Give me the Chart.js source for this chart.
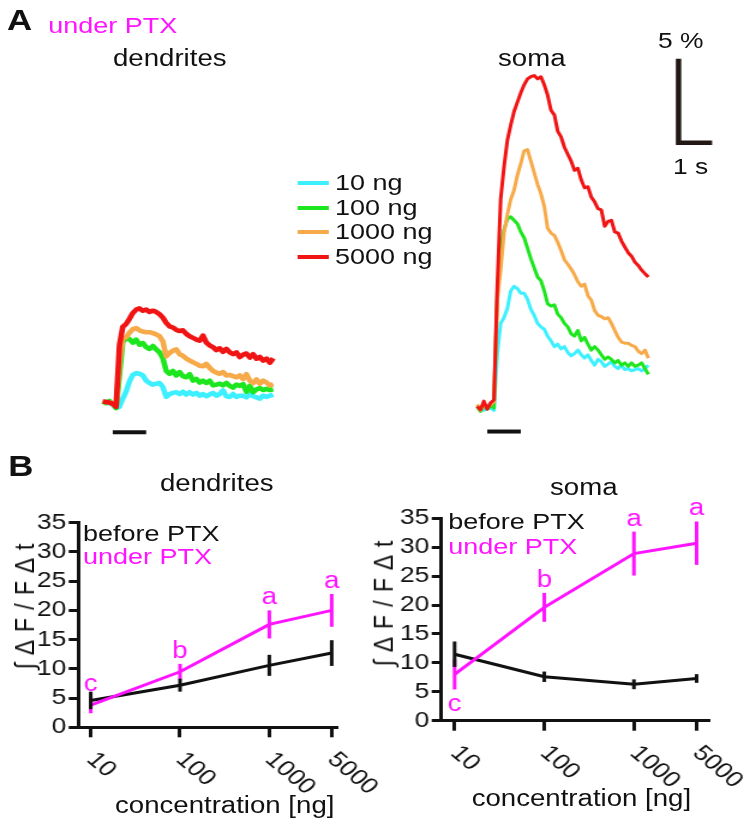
<!DOCTYPE html>
<html>
<head>
<meta charset="utf-8">
<script src="https://cdn.jsdelivr.net/npm/chart.js@4.4.1/dist/chart.umd.min.js"></script>
<style>
  html, body { margin: 0; padding: 0; background: #fff; }
  body { width: 747px; height: 827px; overflow: hidden; position: relative; }
  /* the original figure is drawn a bit wide, so the whole page is stretched horizontally */
  #fig { position: absolute; left: 0; top: 0; width: 622.5px; height: 827px; transform: scaleX(1.2); transform-origin: 0 0; }
  #fig canvas { position: absolute; }
  .t { position: absolute; white-space: nowrap; line-height: 1; color: #111; font-family: "Liberation Sans", Arial, sans-serif; }
</style>
</head>
<body>
<div id="fig"></div>
<script>
// --- panel A: calcium traces (dF/F in %, sampled every 0.1 s) ---
const time = [0, 0.1, 0.2, 0.3, 0.4, 0.5, 0.6, 0.7, 0.8, 0.9,
  1.0, 1.1, 1.2, 1.3, 1.4, 1.5, 1.6, 1.7, 1.8, 1.9,
  2.0, 2.1, 2.2, 2.3, 2.4, 2.5, 2.6, 2.7, 2.8, 2.9,
  3.0, 3.1, 3.2, 3.3, 3.4, 3.5, 3.6, 3.7, 3.8, 3.9,
  4.0, 4.1, 4.2, 4.3, 4.4, 4.5, 4.6, 4.7, 4.8, 4.9,
  5.0, 5.1];

const dendRed = [0.03, 0, -0.03, -0.1, -0.28, 3.38, 4.49, 4.66, 4.97, 5.31,
  5.52, 5.59, 5.45, 5.52, 5.38, 5.45, 5.38, 5.24, 5.04, 4.73,
  4.52, 4.45, 4.31, 4.24, 4.28, 4.07, 3.93, 3.83, 3.73, 3.66,
  3.97, 3.55, 3.38, 3.28, 3.1, 3.21, 3.0, 3.17, 2.97, 2.86,
  2.97, 2.69, 2.83, 2.9, 2.66, 2.86, 2.59, 2.69, 2.48, 2.59,
  2.35, 2.62];
const dendOrange = [0.03, 0, -0.03, -0.07, -0.24, 2.38, 3.8, 3.86, 4.14, 4.35,
  4.42, 4.28, 4.21, 4.17, 4.17, 4.11, 4.04, 3.93, 3.62, 2.73,
  2.93, 3.07, 3.14, 2.86, 2.76, 2.59, 2.48, 2.38, 2.28, 2.17,
  2.14, 2.28, 2.04, 1.86, 1.76, 1.69, 1.79, 1.59, 1.62, 1.55,
  1.48, 1.59, 1.38, 1.66, 1.28, 1.14, 1.35, 1.1, 1.28, 1.17,
  1.0, 1.07];
const dendGreen = [0.03, -0.07, 0.07, -0.14, -0.35, 1.59, 3.59, 3.8, 3.76, 3.55,
  3.73, 3.42, 3.52, 3.28, 3.17, 3.35, 3.14, 2.97, 2.62, 1.86,
  1.69, 1.86, 1.59, 1.79, 1.55, 1.48, 1.66, 1.28, 1.38, 1.17,
  1.28, 1.14, 1.28, 1.0, 1.04, 1.1, 1.0, 1.14, 0.97, 0.86,
  1.04, 0.97, 1.07, 0.62, 0.97, 0.59, 0.76, 0.83, 0.72, 0.79,
  0.72, 0.76];
const dendCyan = [0.03, 0, -0.07, -0.1, -0.35, -0.28, 0.21, 0.62, 1.24, 1.62,
  1.73, 1.69, 1.59, 1.28, 1.14, 1.04, 1.1, 1.14, 0.9, 0.31,
  0.48, 0.55, 0.59, 0.48, 0.62, 0.45, 0.59, 0.45, 0.55, 0.38,
  0.48, 0.35, 0.45, 0.55, 0.38, 0.48, 0.69, 0.35, 0.31, 0.48,
  0.31, 0.38, 0.38, 0.28, 0.48, 0.35, 0.28, 0.21, 0.38, 0.31,
  0.38, 0.45];

const somaRed = [0.1, -0.1, 0.41, -0.07, 0.31, 0.48, 7.25, 12.42, 14.35, 15.94,
  16.84, 17.66, 18.22, 18.77, 19.25, 19.6, 19.73, 19.8, 19.6, 19.73,
  19.25, 18.63, 17.73, 17.46, 16.49, 16.15, 15.53, 15.11, 14.7, 14.15,
  14.28, 13.59, 13.11, 13.18, 12.56, 12.28, 11.87, 11.8, 10.83, 11.11,
  11.18, 10.49, 10.42, 9.94, 9.59, 9.25, 9.04, 8.69, 8.49, 8.21,
  8.0, 7.8];
const somaOrange = [0.21, -0.14, 0.28, 0, 0.21, 0.35, 6.42, 8.21, 10.42, 11.52,
  12.42, 12.97, 13.87, 14.56, 15.32, 15.39, 14.7, 14.01, 13.32, 12.77,
  12.01, 10.7, 10.42, 10.28, 9.87, 9.38, 8.83, 8.56, 8.28, 7.94,
  7.52, 7.25, 7.38, 6.69, 6.42, 5.8, 5.52, 5.45, 5.31, 5.38,
  5.04, 4.62, 4.21, 3.93, 3.86, 3.86, 3.73, 3.66, 3.38, 3.24,
  3.45, 2.97];
const somaGreen = [0.07, -0.21, 0.21, -0.07, 0.14, 0, 6.83, 9.59, 10.63, 11.25,
  11.39, 11.18, 10.97, 10.49, 10.14, 9.52, 8.9, 8.35, 7.8, 7.59,
  6.97, 6.21, 6.07, 6.14, 5.59, 5.38, 5.04, 4.83, 4.42, 4.28,
  4.62, 4.0, 4.21, 3.8, 3.45, 3.66, 3.45, 3.17, 2.9, 3.04,
  2.9, 2.69, 2.83, 2.55, 2.69, 2.48, 2.69, 2.48, 2.55, 2.69,
  2.35, 2.0];
const somaCyan = [0, 0.07, -0.14, 0.14, 0, -0.14, 3.24, 5.04, 5.38, 5.93,
  6.97, 7.25, 7.11, 6.83, 6.83, 6.49, 5.87, 5.52, 5.04, 4.83,
  4.69, 4.28, 4.0, 3.66, 3.8, 3.52, 3.66, 3.31, 3.11, 3.24,
  3.45, 3.17, 2.97, 3.17, 2.83, 2.55, 2.9, 2.76, 2.48, 2.62,
  2.76, 2.48, 2.35, 2.55, 2.28, 2.35, 2.21, 2.28, 2.35, 2.21,
  2.35, 2.55];

const legendLabels = ['10 ng', '100 ng', '1000 ng', '5000 ng'];
const traceColors = ['#3ef0ff', '#1ee61e', '#f7aa4a', '#f01414'];
const stimulus = [0.3, 1.3];          // s
const scaleBar = { t: 6.0, v: 15.8, dt: 1, dv: 5 };  // 1 s, 5 %

// --- panel B: integrated response vs concentration ---
const concentrations = [10, 100, 1000, 5000];
const tickLabels = ['10', '100', '1000', '5000'];
const dendBefore = [4.6, 7.2, 10.6, 12.7];
const dendBeforeErr = [1.5, 1.1, 1.8, 2.2];
const dendUnder = [3.8, 9.5, 17.6, 20.0];
const dendUnderErr = [1.4, 1.35, 2.4, 2.8];
const somaBefore = [11.5, 7.6, 6.3, 7.3];
const somaBeforeErr = [2.2, 0.9, 0.85, 0.75];
const somaUnder = [8.0, 19.6, 28.9, 30.7];
const somaUnderErr = [2.6, 2.5, 3.8, 3.75];
const dendLetters = ['c', 'b', 'a', 'a'];
const somaLetters = ['c', 'b', 'a', 'a'];
const dendLetterSide = ['up', 'up', 'up', 'up'];
const somaLetterSide = ['down', 'up', 'up', 'up'];

const S = 1.2;
const FONT = '"Liberation Sans", Arial, sans-serif';
const BLACK = '#111111';
const MAGENTA = '#ff14ff';
const fig = document.getElementById('fig');

// canvas placed by its box in page pixels (x is divided by the stretch)
function makeCanvas(x0, y0, w, h) {
  const cv = document.createElement('canvas');
  cv.width = Math.round(w); cv.height = Math.round(h);
  cv.style.left = x0 + 'px'; cv.style.top = y0 + 'px';
  cv.style.width = cv.width + 'px'; cv.style.height = cv.height + 'px';
  fig.appendChild(cv);
  return cv;
}

function text(str, x, baseline, size, opts = {}) {
  const d = document.createElement('div');
  d.className = 't';
  d.textContent = str;
  d.style.fontSize = size + 'px';
  d.style.left = (x / S) + 'px';
  d.style.top = (baseline - 0.8465 * size) + 'px';
  if (opts.color) d.style.color = opts.color;
  if (opts.bold) d.style.fontWeight = 'bold';
  fig.appendChild(d);
  return d;
}

function vtext(str, cx, cy, size) {
  const d = document.createElement('div');
  d.className = 't';
  d.textContent = str;
  d.style.fontSize = size + 'px';
  d.style.letterSpacing = '1px';
  d.style.left = (cx / S) + 'px';
  d.style.top = cy + 'px';
  d.style.transform = 'translate(-50%, -50%) rotate(-90deg)';
  fig.appendChild(d);
}

function pts(xs, ys) { return xs.map((x, i) => ({ x: x, y: ys[i] })); }

// trace chart: area = plot rectangle in page pixels
function traceChart(area, xr, yr, datasets, width) {
  const pad = 8;
  const w = (area.x1 - area.x0) / S + 2 * pad;
  const h = area.y1 - area.y0 + 2 * pad;
  const cv = makeCanvas(area.x0 / S - pad, area.y0 - pad, w, h);
  new Chart(cv, {
    type: 'line',
    data: { datasets: datasets },
    options: {
      responsive: false,
      animation: false,
      layout: { padding: pad },
      plugins: { legend: { display: false }, tooltip: { enabled: false } },
      elements: { point: { radius: 0 }, line: { tension: 0, borderWidth: width, borderJoinStyle: 'round' } },
      scales: {
        x: { type: 'linear', min: xr[0], max: xr[1], display: false },
        y: { type: 'linear', min: yr[0], max: yr[1], display: false }
      }
    }
  });
}

function traceSets(series, stimLevel, stimWidth) {
  const sets = series.map((vals, i) => ({ data: pts(time, vals), borderColor: traceColors[i] })).reverse();
  sets.push({ data: [{ x: stimulus[0], y: stimLevel }, { x: stimulus[1], y: stimLevel }], borderColor: BLACK, borderWidth: stimWidth, borderCapStyle: 'butt' });
  return sets;
}

const dendSets = traceSets([dendCyan, dendGreen, dendOrange, dendRed], -1.8, 4);
traceChart({ x0: 96.3, x1: 283.9, y0: 267.6, y1: 444 }, [-0.2, 5.4], [-2.5, 8], dendSets, 4.6);

const somaSets = traceSets([somaCyan, somaGreen, somaOrange, somaRed], -1.4, 4);
somaSets.push({
  data: [{ x: scaleBar.t, y: scaleBar.v + scaleBar.dv }, { x: scaleBar.t, y: scaleBar.v }, { x: scaleBar.t + scaleBar.dt, y: scaleBar.v }],
  borderColor: '#231815', borderWidth: 4.5, borderJoinStyle: 'miter', borderCapStyle: 'butt'
});
traceChart({ x0: 470, x1: 717.9, y0: 46.8, y1: 450 }, [-0.2, 7.2], [-2.5, 21.5], somaSets, 3);

// --- panel B plugins ---
const errorBars = {
  id: 'errorBars',
  afterDatasetsDraw(chart) {
    const ctx = chart.ctx, xs = chart.scales.x, ys = chart.scales.y;
    ctx.save();
    chart.data.datasets.forEach(ds => {
      ds.data.forEach((p, i) => {
        const x = xs.getPixelForValue(p.x);
        const top = ys.getPixelForValue(p.y + ds.errors[i]);
        const bot = ys.getPixelForValue(p.y - ds.errors[i]);
        ctx.strokeStyle = ds.borderColor; ctx.lineWidth = 3;
        ctx.beginPath(); ctx.moveTo(x, top); ctx.lineTo(x, bot); ctx.stroke();
        if (ds.letters) {
          ctx.fillStyle = ds.borderColor;
          ctx.font = '23px ' + FONT;
          ctx.textAlign = 'center';
          ctx.textBaseline = 'alphabetic';
          const y = ds.letterSide[i] === 'up' ? top - 6 : bot + 22;
          ctx.fillText(ds.letters[i], x, y);
        }
      });
    });
    ctx.restore();
  }
};

const slantedTicks = {
  id: 'slantedTicks',
  afterDraw(chart) {
    const ctx = chart.ctx, xs = chart.scales.x;
    ctx.save();
    ctx.fillStyle = BLACK;
    ctx.font = '22px ' + FONT;
    ctx.textAlign = 'left';
    ctx.textBaseline = 'middle';
    concentrations.forEach((c, i) => {
      ctx.save();
      ctx.translate(xs.getPixelForValue(c), chart.chartArea.bottom + 29);
      ctx.rotate(Math.PI / 4);
      ctx.fillText(tickLabels[i], 0, 0);
      ctx.restore();
    });
    ctx.restore();
  }
};

function doseChart(box, area, xr, before, beforeErr, under, underErr, letters, letterSide) {
  const W = Math.round((box.x1 - box.x0) / S);
  const H = box.y1 - box.y0;
  const cv = makeCanvas(box.x0 / S, box.y0, W, H);
  new Chart(cv, {
    type: 'line',
    data: {
      datasets: [
        { data: pts(concentrations, under), borderColor: MAGENTA, errors: underErr, letters: letters, letterSide: letterSide },
        { data: pts(concentrations, before), borderColor: BLACK, errors: beforeErr }
      ]
    },
    options: {
      responsive: false,
      animation: false,
      layout: { padding: { left: 0, top: area.y0 - box.y0, right: W - (area.x1 - box.x0) / S, bottom: 0 } },
      plugins: { legend: { display: false }, tooltip: { enabled: false } },
      elements: { point: { radius: 0 }, line: { tension: 0, borderWidth: 3 } },
      scales: {
        x: {
          type: 'logarithmic', min: xr[0], max: xr[1],
          afterBuildTicks: s => { s.ticks = concentrations.map(v => ({ value: v })); },
          afterFit: s => { s.height = box.y1 - area.y1; },
          ticks: { display: false },
          grid: { drawOnChartArea: false, drawTicks: true, tickLength: 10, tickWidth: 3, tickColor: BLACK },
          border: { display: true, width: 3, color: BLACK }
        },
        y: {
          min: 0, max: 35,
          afterFit: s => { s.width = (area.x0 - box.x0) / S; },
          ticks: { stepSize: 5, autoSkip: false, color: BLACK, font: { family: FONT, size: 22, lineHeight: 1 }, padding: 2 },
          grid: { drawOnChartArea: false, drawTicks: true, tickLength: 8, tickWidth: 3, tickColor: BLACK },
          border: { display: true, width: 3, color: BLACK }
        }
      }
    },
    plugins: [errorBars, slantedTicks]
  });
}

doseChart({ x0: 0, x1: 384, y0: 500, y1: 800 }, { x0: 78.3, x1: 338.3, y0: 522.7, y1: 727.3 },
  [7.26, 5930], dendBefore, dendBeforeErr, dendUnder, dendUnderErr, dendLetters, dendLetterSide);
doseChart({ x0: 370, x1: 747, y0: 500, y1: 800 }, { x0: 441.7, x1: 710, y0: 518.3, y1: 720.7 },
  [7.11, 6980], somaBefore, somaBeforeErr, somaUnder, somaUnderErr, somaLetters, somaLetterSide);

// --- text ---
text('A', 7, 30.7, 29, { bold: true });
text('under PTX', 48.3, 34.3, 22.5, { color: MAGENTA });
text('dendrites', 113, 66.7, 23);
text('soma', 498, 66, 23);
text('5 %', 658, 48.3, 22);
text('1 s', 673, 175, 22);

const legendY = [183, 207.5, 232, 257];
legendLabels.forEach((lab, i) => {
  const ln = document.createElement('div');
  ln.style.position = 'absolute';
  ln.style.left = (297 / S) + 'px';
  ln.style.width = (32 / S) + 'px';
  ln.style.top = (legendY[i] - 2) + 'px';
  ln.style.height = '4px';
  ln.style.background = traceColors[i];
  fig.appendChild(ln);
  text(lab, 335, legendY[i] + 8.5, 22.5);
});

text('B', 8.3, 476.7, 29, { bold: true });
text('dendrites', 160, 491.7, 23);
text('soma', 550, 495, 23);
text('before PTX', 83, 541.7, 22.5);
text('under PTX', 83, 565, 22.5, { color: MAGENTA });
text('before PTX', 448.3, 530, 22.5);
text('under PTX', 448.3, 555, 22.5, { color: MAGENTA });
text('concentration [ng]', 115, 813, 23);
text('concentration [ng]', 471.7, 806.7, 23);
vtext('∫ ∆ F / F ∆ t', 25, 606, 23);
vtext('∫ ∆ F / F ∆ t', 384, 603, 23);
</script>
</body>
</html>
